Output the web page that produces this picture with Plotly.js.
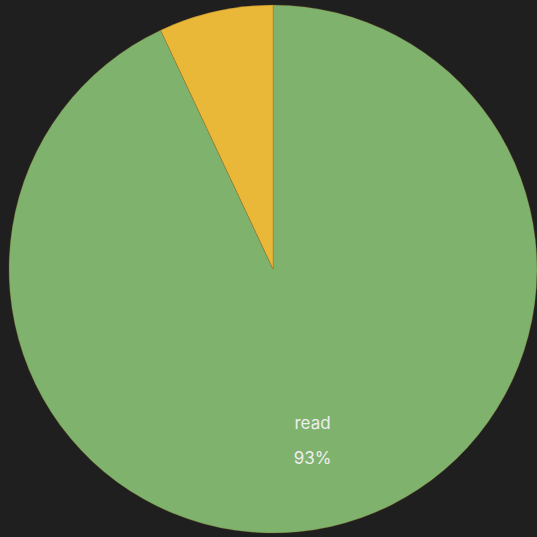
<!DOCTYPE html>
<html>
<head>
<meta charset="utf-8">
<script src="https://cdn.plot.ly/plotly-3.0.1.min.js"></script>
<style>
html,body{margin:0;padding:0;background:#1f1f20;}
#chart{width:537px;height:537px;}
</style>
</head>
<body>
<div id="chart"></div>
<script>
var labels = ["read", "write"];
var values = [93, 7];
var colors = ["#7eb26d", "#eab839"];

// invisible spacer used only to nudge the label block outward inside the big slice
var ghost = "<span style='color:rgba(0,0,0,0)'>.</span>";
var pad = "<span style='color:rgba(0,0,0,0);font-size:17px'>00</span>";
var labelTemplate =
  ghost + "<br>" + ghost + "<br>" + ghost + "<br>" + ghost + "<br>" + ghost + "<br>" +
  pad + "<span style='font-size:17px'>%{label}</span><br><br>" +
  pad + "<span style='font-size:17px'>%{percent}</span>";
var textTemplates = [labelTemplate, ""];

var trace = {
  type: "pie",
  labels: labels,
  values: values,
  sort: false,
  direction: "clockwise",
  rotation: 0,
  marker: {colors: colors, line: {color: "rgba(140,100,30,0.5)", width: 0.6}},
  texttemplate: textTemplates,
  textposition: ["inside", "none"],
  insidetextorientation: "horizontal",
  textfont: {family: "Inter, 'DejaVu Sans', sans-serif", size: 13.5, color: "#eeeeee"},
  hoverinfo: "label+percent",
  showlegend: false
};

var layout = {
  width: 537,
  height: 537,
  margin: {l: 9, r: 0, t: 4, b: 3, pad: 0},
  paper_bgcolor: "#1f1f20",
  plot_bgcolor: "#1f1f20",
  showlegend: false
};

Plotly.newPlot("chart", [trace], layout, {displayModeBar: false, staticPlot: true});
</script>
</body>
</html>
